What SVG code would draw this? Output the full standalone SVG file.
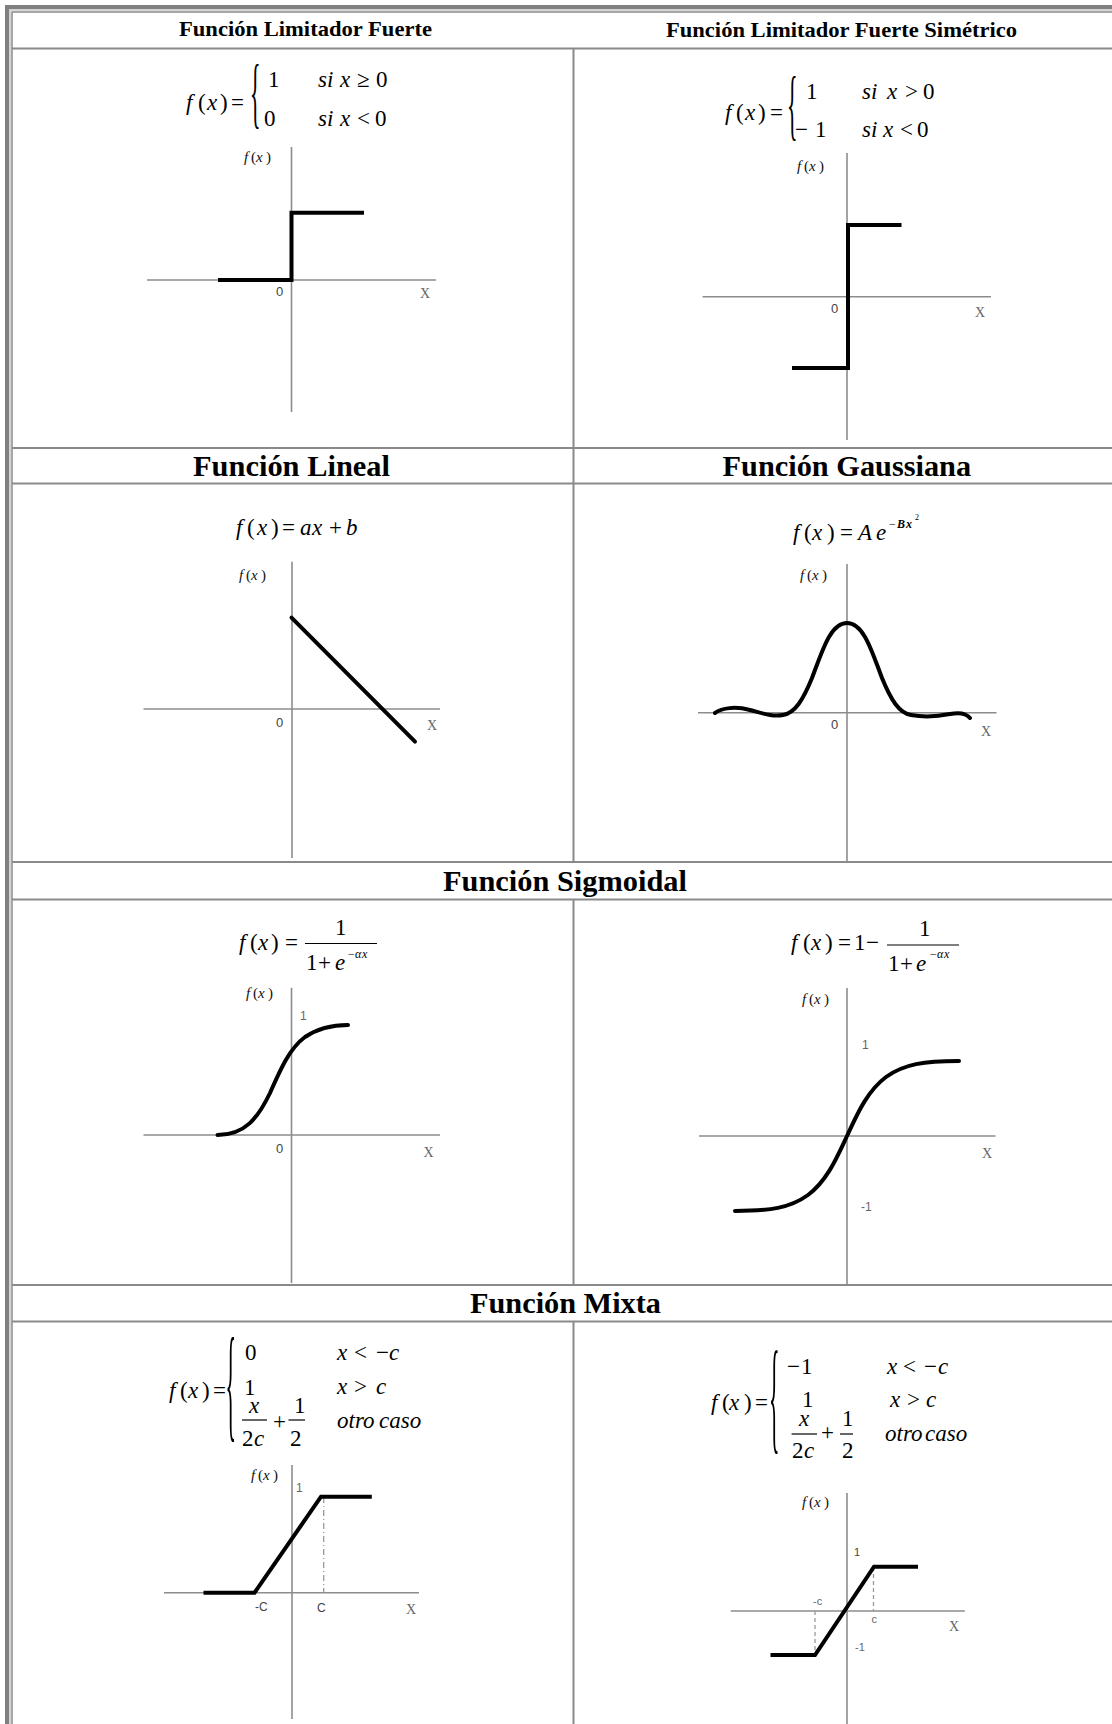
<svg xmlns="http://www.w3.org/2000/svg" width="1112" height="1724" viewBox="0 0 1112 1724">
<style>
.grid{stroke:#8a8a8a;stroke-width:2;fill:none}
.ax{stroke:#8c8c8c;stroke-width:1.6;fill:none}
.cv{stroke:#000;stroke-width:4;fill:none;stroke-linejoin:miter}
.cr{stroke:#000;stroke-width:4;fill:none;stroke-linecap:round;stroke-linejoin:round}
.dash{stroke:#999;stroke-width:1.3;fill:none}
.bar{stroke:#000;stroke-width:1.2}
.hd{font-family:"Liberation Serif","Times New Roman",serif;font-weight:bold;fill:#000}
.m{font-family:"Liberation Serif","Times New Roman",serif;font-size:23px;font-style:italic;fill:#000}
.e{font-family:"Liberation Serif","Times New Roman",serif;font-size:12px;font-style:italic;fill:#000}
.u{font-style:normal}
.fx{font-family:"Liberation Serif","Times New Roman",serif;font-size:15px;font-style:italic;fill:#111}
.br{font-family:"Liberation Serif","Times New Roman",serif;font-size:22px;fill:#000}
.lb{font-family:"Liberation Sans",Arial,sans-serif;font-size:13px;fill:#444}
.ls{font-family:"Liberation Sans",Arial,sans-serif;font-size:12px;fill:#666}
.lt{font-family:"Liberation Sans",Arial,sans-serif;font-size:11px;fill:#666}
.xl{font-family:"Liberation Serif","Times New Roman",serif;font-size:14px;fill:#666}
</style>
<rect width="1112" height="1724" fill="#fff"/>
<g id="frame">
<rect x="5" y="5" width="4" height="1719" fill="#808080"/>
<rect x="5" y="5" width="1107" height="4" fill="#808080"/>
<rect x="9" y="9" width="2" height="1715" fill="#d4d4d4"/>
<rect x="9" y="9" width="1103" height="2" fill="#d4d4d4"/>
<line class="grid" x1="12" y1="11.5" x2="12" y2="1724" style="stroke-width:1.5"/>
<line class="grid" x1="12" y1="12" x2="1112" y2="12" style="stroke-width:1.5"/>
</g>
<g id="grid">
<line class="grid" x1="12" y1="48.5" x2="1112" y2="48.5"/>
<line class="grid" x1="12" y1="448" x2="1112" y2="448"/>
<line class="grid" x1="12" y1="483.5" x2="1112" y2="483.5"/>
<line class="grid" x1="12" y1="862" x2="1112" y2="862"/>
<line class="grid" x1="12" y1="899.5" x2="1112" y2="899.5"/>
<line class="grid" x1="12" y1="1285" x2="1112" y2="1285"/>
<line class="grid" x1="12" y1="1321.5" x2="1112" y2="1321.5"/>
<line class="grid" x1="573.5" y1="48.5" x2="573.5" y2="862"/>
<line class="grid" x1="573.5" y1="899.5" x2="573.5" y2="1285"/>
<line class="grid" x1="573.5" y1="1321.5" x2="573.5" y2="1724"/>
</g>
<g id="headers">
<text class="hd" x="179" y="36" font-size="22" textLength="253" lengthAdjust="spacingAndGlyphs">Función Limitador Fuerte</text>
<text class="hd" x="666" y="37" font-size="22" textLength="351" lengthAdjust="spacingAndGlyphs">Función Limitador Fuerte Simétrico</text>
<text class="hd" x="193" y="476" font-size="30" textLength="197" lengthAdjust="spacingAndGlyphs">Función Lineal</text>
<text class="hd" x="722.6" y="476" font-size="30" textLength="248.5" lengthAdjust="spacingAndGlyphs">Función Gaussiana</text>
<text class="hd" x="443" y="891" font-size="30" textLength="244" lengthAdjust="spacingAndGlyphs">Función Sigmoidal</text>
<text class="hd" x="470" y="1313" font-size="30" textLength="191" lengthAdjust="spacingAndGlyphs">Función Mixta</text>
</g>
<g id="limitador-fuerte">
<text class="m" x="186 198 207 220 231" y="110">f<tspan class="u">(</tspan>x<tspan class="u">)=</tspan></text>
<text class="br" transform="translate(250,118.8) scale(1,3.58)">{</text>
<text class="m u" x="268" y="87">1</text>
<text class="m u" x="264" y="126">0</text>
<text class="m" x="318 327 340 357 376" y="87">six<tspan class="u">≥0</tspan></text>
<text class="m" x="318 327 340 357 375" y="126">six<tspan class="u">&lt;0</tspan></text>
<line class="ax" x1="291.5" y1="147" x2="291.5" y2="412"/>
<line class="ax" x1="147" y1="280" x2="436" y2="280"/>
<path class="cv" d="M218,280 H291.5 V212.7 H364"/>
<text class="lb" x="276" y="296">0</text>
<text class="xl" x="420" y="298">X</text>
<text class="fx" x="244 251 256 266" y="162">f<tspan class="u">(</tspan>x<tspan class="u">)</tspan></text>
</g>
<g id="limitador-fuerte-simetrico">
<text class="m" x="725 736 745 758 770" y="120">f<tspan class="u">(</tspan>x<tspan class="u">)=</tspan></text>
<text class="br" transform="translate(787,130.8) scale(1,3.58)">{</text>
<text class="m u" x="806" y="99">1</text>
<text class="m u" x="795 815" y="137">−1</text>
<text class="m" x="862 871 887 905 923" y="99">six<tspan class="u">&gt;0</tspan></text>
<text class="m" x="862 871 883 900 917" y="137">six<tspan class="u">&lt;0</tspan></text>
<line class="ax" x1="847" y1="153" x2="847" y2="440"/>
<line class="ax" x1="702.6" y1="296.7" x2="991" y2="296.7"/>
<path class="cv" d="M792,368 H848 V225 H901.5"/>
<text class="lb" x="831" y="313">0</text>
<text class="xl" x="975" y="317">X</text>
<text class="fx" x="797 804 809 819" y="171">f<tspan class="u">(</tspan>x<tspan class="u">)</tspan></text>
</g>
<g id="lineal">
<text class="m" x="236 247 257 271 282 300 312 329 346" y="535">f<tspan class="u">(</tspan>x<tspan class="u">)=</tspan>ax<tspan class="u">+</tspan>b</text>
<line class="ax" x1="292" y1="561.7" x2="292" y2="858"/>
<line class="ax" x1="143.5" y1="709" x2="440" y2="709"/>
<path class="cr" d="M291.5,617.7 L415,741.7"/>
<text class="lb" x="276" y="727">0</text>
<text class="xl" x="427" y="730">X</text>
<text class="fx" x="239 246 251 261" y="580">f<tspan class="u">(</tspan>x<tspan class="u">)</tspan></text>
</g>
<g id="gaussiana">
<text class="m" x="793 804 812 827 840 858 876" y="540">f<tspan class="u">(</tspan>x<tspan class="u">)=</tspan>Ae</text>
<text class="e" x="889 897 906" y="528" style="font-weight:bold"><tspan class="u" style="font-weight:normal">−</tspan>Bx</text>
<text class="e u" x="915" y="520" style="font-size:8px">2</text>
<line class="ax" x1="847" y1="564" x2="847" y2="861.7"/>
<line class="ax" x1="698" y1="712.7" x2="996.5" y2="712.7"/>
<path class="cr" d="M715,713 C722,708 735,706 750,710 C762,713 772,717 783,715 C795,713 803,700 812,678 C822,652 830,623 847,623 C864,623 872,652 882,678 C891,700 899,713 911,715 C922,717 935,717 950,714 C960,712 966,713 970,718"/>
<text class="lb" x="831" y="729">0</text>
<text class="xl" x="981" y="736">X</text>
<text class="fx" x="800 807 812 822" y="580">f<tspan class="u">(</tspan>x<tspan class="u">)</tspan></text>
</g>
<g id="sigmoidal-logistica">
<text class="m" x="239 250 258 271 285" y="950">f<tspan class="u">(</tspan>x<tspan class="u">)=</tspan></text>
<text class="m u" x="335" y="935">1</text>
<line class="bar" x1="305" y1="943.5" x2="377" y2="943.5"/>
<text class="m" x="306 318 335" y="970"><tspan class="u">1+</tspan>e</text>
<text class="e" x="348 355 362" y="958"><tspan class="u">−</tspan>αx</text>
<line class="ax" x1="291.5" y1="987.7" x2="291.5" y2="1283"/>
<line class="ax" x1="143.5" y1="1135" x2="440" y2="1135"/>
<path class="cr" d="M217.5,1135 C245,1135 258,1118 270,1093 C281,1068 290,1048 305,1037 C320,1027 335,1025 348,1025"/>
<text class="ls" x="300" y="1020">1</text>
<text class="lb" x="276" y="1153">0</text>
<text class="xl" x="423.6" y="1157">X</text>
<text class="fx" x="246 253 258 268" y="998">f<tspan class="u">(</tspan>x<tspan class="u">)</tspan></text>
</g>
<g id="sigmoidal-simetrica">
<text class="m" x="791 803 811 825 838 854 866" y="950">f<tspan class="u">(</tspan>x<tspan class="u">)=1−</tspan></text>
<text class="m u" x="919" y="936">1</text>
<line class="bar" x1="887" y1="945" x2="959" y2="945"/>
<text class="m" x="888 900 916" y="971"><tspan class="u">1+</tspan>e</text>
<text class="e" x="930 937 944" y="958"><tspan class="u">−</tspan>αx</text>
<line class="ax" x1="847" y1="988" x2="847" y2="1285"/>
<line class="ax" x1="699" y1="1136" x2="995.5" y2="1136"/>
<path class="cr" d="M735,1211 C770,1211 790,1208 808,1195 C828,1180 838,1155 847,1136 C856,1117 866,1092 886,1077 C904,1064 924,1061 959,1061"/>
<text class="ls" x="862" y="1049">1</text>
<text class="ls" x="861" y="1211">-1</text>
<text class="xl" x="982" y="1158">X</text>
<text class="fx" x="802 809 814 824" y="1004">f<tspan class="u">(</tspan>x<tspan class="u">)</tspan></text>
</g>
<g id="mixta-0-1">
<text class="m" x="169 180 188 202 213" y="1398">f<tspan class="u">(</tspan>x<tspan class="u">)=</tspan></text>
<text class="br" transform="translate(225.5,1425) scale(1,5.79)">{</text>
<text class="m u" x="245" y="1360">0</text>
<text class="m u" x="244" y="1395">1</text>
<text class="m" x="249" y="1413">x</text>
<line class="bar" x1="242" y1="1420" x2="267" y2="1420"/>
<text class="m" x="242 254" y="1446"><tspan class="u">2</tspan>c</text>
<text class="m u" x="273" y="1429">+</text>
<text class="m u" x="294" y="1413">1</text>
<line class="bar" x1="288.5" y1="1420" x2="305" y2="1420"/>
<text class="m u" x="290" y="1446">2</text>
<text class="m" x="337 354 376 389" y="1360">x<tspan class="u">&lt;−</tspan>c</text>
<text class="m" x="337 354 376" y="1394">x<tspan class="u">&gt;</tspan>c</text>
<text class="m" x="337" y="1428">otro<tspan x="379">caso</tspan></text>
<line class="ax" x1="292" y1="1465" x2="292" y2="1719"/>
<line class="ax" x1="164" y1="1592.7" x2="419" y2="1592.7"/>
<line class="dash" x1="323.7" y1="1497" x2="323.7" y2="1592.7" stroke-dasharray="6,3,1,3"/>
<path class="cv" d="M203.5,1592.7 H254.5 L321,1496.7 H371.8"/>
<text class="ls" x="296" y="1492">1</text>
<text class="lb" x="255" y="1611" style="font-size:12px">-C</text>
<text class="lb" x="317" y="1612" style="font-size:12px">C</text>
<text class="xl" x="406" y="1614">X</text>
<text class="fx" x="251 258 263 273" y="1480">f<tspan class="u">(</tspan>x<tspan class="u">)</tspan></text>
</g>
<g id="mixta-simetrica">
<text class="m" x="711 722 729 744 755" y="1410">f<tspan class="u">(</tspan>x<tspan class="u">)=</tspan></text>
<text class="br" transform="translate(769,1437.4) scale(1,5.68)">{</text>
<text class="m u" x="787 801" y="1374">−1</text>
<text class="m u" x="802" y="1407">1</text>
<text class="m" x="799" y="1426">x</text>
<line class="bar" x1="791.6" y1="1434" x2="817" y2="1434"/>
<text class="m" x="792 804" y="1458"><tspan class="u">2</tspan>c</text>
<text class="m u" x="821" y="1440">+</text>
<text class="m u" x="842" y="1426">1</text>
<line class="bar" x1="840" y1="1434" x2="853" y2="1434"/>
<text class="m u" x="842" y="1458">2</text>
<text class="m" x="887 903 924 938" y="1374">x<tspan class="u">&lt;−</tspan>c</text>
<text class="m" x="890 907 926" y="1407">x<tspan class="u">&gt;</tspan>c</text>
<text class="m" x="885" y="1441">otro<tspan x="925">caso</tspan></text>
<line class="ax" x1="847" y1="1493" x2="847" y2="1724"/>
<line class="ax" x1="730.7" y1="1611" x2="964.8" y2="1611"/>
<line class="dash" x1="815" y1="1611" x2="815" y2="1655" stroke-dasharray="4,3"/>
<line class="dash" x1="873.5" y1="1567" x2="873.5" y2="1611" stroke-dasharray="4,3"/>
<path class="cv" d="M770.5,1655 H815 L874,1566.7 H918"/>
<text class="lt" x="854" y="1556" style="fill:#444">1</text>
<text class="lt" x="813" y="1605">-c</text>
<text class="lt" x="871.5" y="1623">c</text>
<text class="lt" x="855" y="1651">-1</text>
<text class="xl" x="949" y="1631">X</text>
<text class="fx" x="802 809 814 824" y="1507">f<tspan class="u">(</tspan>x<tspan class="u">)</tspan></text>
</g>
</svg>
